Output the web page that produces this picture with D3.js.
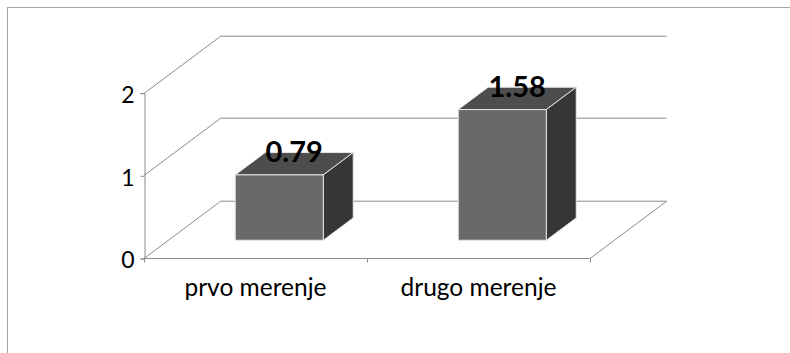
<!DOCTYPE html>
<html>
<head>
<meta charset="utf-8">
<script src="https://cdn.jsdelivr.net/npm/d3@7"></script>
<style>
  body { margin: 0; background: #fff; }
  text { font-family: Lato, 'Open Sans', sans-serif; }
</style>
</head>
<body>
<div id="chart"></div>
<script>
const categories = ['prvo merenje', 'drugo merenje']
const values = [0.79, 1.58]
const valueLabels = ['0.79', '1.58']
const yTicks = [0, 1, 2]

const width = 790
const height = 353

// oblique depth of the 3d box
const depthX = 76.7
const depthY = 57.3
const barFront = 0.31
const barBack = 0.70

const svg = d3.select('#chart').append('svg')
  .attr('width', width)
  .attr('height', height)

// outer frame
svg.append('rect')
  .attr('x', 7.5).attr('y', 7.5)
  .attr('width', 800).attr('height', 400)
  .attr('fill', 'none')
  .attr('stroke', '#a6a6a6')

const x = d3.scaleBand()
  .domain(categories)
  .range([144, 590])
  .paddingInner(0.605)
  .paddingOuter(0.3025)

const y = d3.scaleLinear().domain([0, 2]).range([258, 92.6])

const grid = svg.append('g')
  .attr('fill', 'none')
  .attr('stroke', '#8c8c8c')
  .attr('stroke-width', 1)

// back wall gridlines with the diagonal on the side wall
yTicks.forEach(function(t) {
  const yy = Math.round(y(t)) + 0.5
  grid.append('path')
    .attr('d', 'M144 ' + yy + ' L' + (144 + depthX) + ' ' + (yy - depthY) + ' L' + (590 + depthX) + ' ' + (yy - depthY))
})

// floor front edge and right edge
const y0 = Math.round(y(0)) + 0.5
grid.append('path')
  .attr('d', 'M144 ' + y0 + ' L590 ' + y0 + ' L' + (590 + depthX) + ' ' + (y0 - depthY))

// category ticks at band boundaries
const bounds = [144, 144 + x.step(), 590]
bounds.forEach(function(b) {
  grid.append('line')
    .attr('x1', Math.round(b) + 0.5).attr('x2', Math.round(b) + 0.5)
    .attr('y1', y0).attr('y2', y0 + 4)
})

// value axis
const yAxis = svg.append('g')
  .attr('transform', 'translate(144.5,0.5)')
  .call(d3.axisLeft(y).tickValues(yTicks).tickFormat(d3.format('d')).tickSizeOuter(0).tickSize(4).tickPadding(6))
yAxis.select('.domain').attr('stroke', '#8c8c8c')
yAxis.selectAll('.tick line').attr('stroke', '#8c8c8c')
yAxis.selectAll('.tick text')
  .attr('font-size', 23)
  .attr('font-family', 'Lato')
  .attr('fill', '#000')
  .attr('dy', '0.4em')

// category labels
svg.append('g').selectAll('text')
  .data(categories)
  .join('text')
  .attr('x', d => x(d) + x.bandwidth() / 2)
  .attr('y', 296)
  .attr('text-anchor', 'middle')
  .attr('font-size', 24.5)
  .attr('fill', '#000')
  .text(d => d)

// bars
const bdx = (barBack - barFront) * depthX
const bdy = (barBack - barFront) * depthY
const bars = svg.append('g')
  .attr('stroke', '#e6e6e6')
  .attr('stroke-width', 1)
  .attr('stroke-linejoin', 'round')

categories.forEach(function(c, i) {
  const x0 = x(c) + barFront * depthX
  const x1 = x0 + x.bandwidth()
  const yb = y(0) - barFront * depthY
  const yt = y(values[i]) - barFront * depthY
  const pts = function(arr) { return arr.map(p => p.join(',')).join(' ') }

  bars.append('polygon')
    .attr('points', pts([[x0, yt], [x1, yt], [x1 + bdx, yt - bdy], [x0 + bdx, yt - bdy]]))
    .attr('fill', '#4d4d4d')
  bars.append('polygon')
    .attr('points', pts([[x1, yt], [x1 + bdx, yt - bdy], [x1 + bdx, yb - bdy], [x1, yb]]))
    .attr('fill', '#363636')
  bars.append('rect')
    .attr('x', x0).attr('y', yt)
    .attr('width', x1 - x0).attr('height', yb - yt)
    .attr('fill', '#696969')

  svg.append('text')
    .attr('x', (x0 + x1) / 2 + bdx / 2)
    .attr('y', yt - 13)
    .attr('text-anchor', 'middle')
    .attr('font-size', 29)
    .attr('font-weight', 'bold')
    .attr('fill', '#000')
    .text(valueLabels[i])
})
</script>
</body>
</html>
